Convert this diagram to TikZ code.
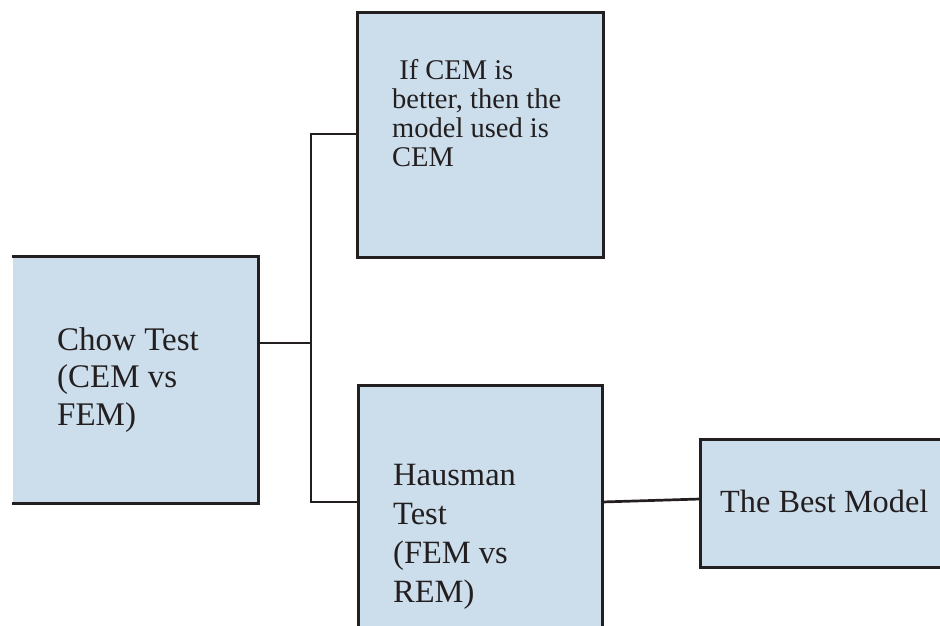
\documentclass[tikz,border=0pt]{standalone}
\usepackage{fontspec}
\setmainfont{Liberation Serif}
\definecolor{boxfill}{RGB}{204,222,236}
\definecolor{ink}{RGB}{35,31,32}
\begin{document}
\begin{tikzpicture}[x=1pt,y=-1pt,
  panel/.style={fill=boxfill, draw=none, rectangle, inner sep=0pt, outer sep=0pt, anchor=north west},
  edge/.style={draw=ink, line width=3pt, line cap=rect},
  link/.style={draw=ink, line width=2.7pt},
  label/.style={anchor=base west, align=left, inner sep=0pt, text=ink}]
\useasboundingbox (0,0) rectangle (940,625);

% filled panels
\node[panel, minimum width=245pt, minimum height=247pt] (chow) at (13,256) {};
\node[panel, minimum width=246pt, minimum height=245pt] (cem) at (357,12) {};
\node[panel, minimum width=244pt, minimum height=260pt] (haus) at (358,385) {};
\node[panel, minimum width=260pt, minimum height=128pt] (best) at (700,439) {};

% panel borders
\draw[edge] (chow.north west) -- (chow.north east) -- (chow.south east) -- (chow.south west);
\draw[edge] (cem.north west) rectangle (cem.south east);
\draw[edge] (haus.south west) -- (haus.north west) -- (haus.north east) -- (haus.south east);
\draw[edge] (best.north east) -- (best.north west) -- (best.south west) -- (best.south east);

% texts (anchored at the baseline of the last line)
\node[label, font=\fontsize{33}{37.5}\selectfont] (chowtxt) at (57,425) {Chow Test\\(CEM vs\\FEM)};
\node[label, font=\fontsize{28.5}{28.7}\selectfont] (cemtxt) at (392,166) {\ If CEM is\\better, then the\\model used is\\CEM};
\node[label, font=\fontsize{32.5}{39}\selectfont] (haustxt) at (393,602) {Hausman\\Test\\(FEM vs\\REM)};
\node[label, font=\fontsize{32.3}{37}\selectfont] (besttxt) at (720,512) {The Best Model};

% connectors
\coordinate (jtop) at (311,134);
\coordinate (jmid) at (311,343);
\coordinate (jbot) at (311,502);
\draw[link] (chow.east |- jmid) -- (jmid);
\draw[link] (jtop -| cem.west) -- (jtop) -- (jbot) -- (jbot -| haus.west);
\draw[link] (haus.east |- jbot) -- ([yshift=3pt]best.west |- jbot);
\end{tikzpicture}
\end{document}
